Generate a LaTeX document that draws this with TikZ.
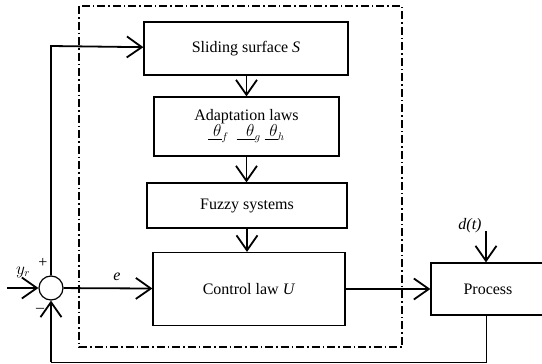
\documentclass[tikz,border=0pt]{standalone}
\usepackage{fontspec}
\setmainfont{Liberation Serif}
\usepackage{amsmath}
\usetikzlibrary{arrows.meta,calc,positioning}
\tikzstyle{blk}=[rectangle, draw=black, line width=1.2, inner sep=2pt, font=\fontsize{16}{19}\selectfont]
\tikzstyle{sumc}=[circle, draw=black, line width=1.2, minimum size=24pt, inner sep=0pt]
\tikzstyle{l1}=[line width=1.8]
\tikzstyle{l0}=[line width=0.9]
\tikzstyle{arr}=[-{Straight Barb[length=15pt, width=21pt, line width=1.8]}]
\tikzstyle{lab}=[font=\fontsize{16}{19}\selectfont, inner sep=0pt]

\begin{document}
\begin{tikzpicture}[x=1pt, y=-1pt]
    \useasboundingbox (0,0) rectangle (542,364);
    \draw[line width=1.5, dash pattern=on 8pt off 3pt on 1.5pt off 3pt] (79,6) rectangle (402,347);

    \node[blk, minimum width=204pt, minimum height=53pt] at (246,48.5) (surf) {Sliding surface \textit{S}};
    \node[blk, minimum width=185pt, minimum height=59pt, align=center] at (246.5,126.5) (adapt) {Adaptation laws\\[-3pt] $\underline{\;\theta}_f\ \ \underline{\;\;\theta}_g\ \underline{\;\theta}_h$};
    \node[blk, minimum width=200pt, minimum height=45pt] at (247,205.5) (fuzzy) {Fuzzy systems};
    \node[blk, minimum width=192pt, minimum height=73pt] at (249,289) (ctrl) {Control law \textit{U}};
    \node[blk, minimum width=114pt, minimum height=52pt] at (488,289) (proc) {Process};
    \node[sumc] at (51,288) (sum) {};

    \coordinate (in) at (7,288);
    \coordinate (fb1) at (51,46);
    \coordinate (dt) at (486,231);
    \coordinate (fb2) at (486,362);
    \coordinate (fb3) at (51,362);

    \node[lab] at (23,272) (yr) {$y_r$};
    \node[lab] at (43,263) (plus) {+};
    \node[lab] at (40,310) (minus) {--};
    \node[lab] at (117,277) (e) {\textit{e}};
    \node[lab] at (470,226) (d) {\textit{d(t)}};

    \draw[l1, arr] (in) -- (sum);
    \draw[l1, arr] (sum) -- (ctrl);
    \draw[l1, arr] (sum) -- (fb1) -- (surf);
    \draw[l1, arr] (surf.south -| adapt.north) -- (adapt);
    \draw[l1, arr] (adapt.south) -- (adapt.south |- fuzzy.north);
    \draw[l1, arr] (fuzzy.south) -- (fuzzy.south |- ctrl.north);
    \draw[l1, arr] (ctrl) -- (proc);
    \draw[l1, arr] (dt) -- (proc.north -| dt);
    \draw[l0] (proc.south -| fb2) -- (fb2) -- (fb3);
    \draw[l1, arr] (fb3) -- (sum);
\end{tikzpicture}
\end{document}
